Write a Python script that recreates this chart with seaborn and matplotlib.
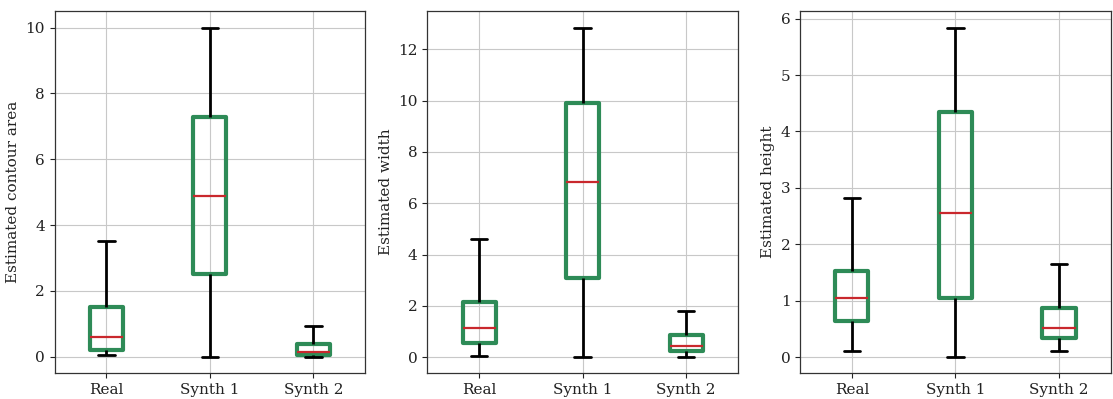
import numpy as np
import pandas as pd
import matplotlib
matplotlib.use("Agg")
import matplotlib.pyplot as plt
import seaborn as sns

groups = ["Real", "Synth 1", "Synth 2"]

# five-number summaries: [min, q1, median, q3, max]
area_real = [0.05, 0.19, 0.60, 1.52, 3.50]
area_synth1 = [0.00, 2.50, 4.88, 7.28, 10.00]
area_synth2 = [0.00, 0.06, 0.14, 0.38, 0.92]

width_real = [0.05, 0.55, 1.12, 2.15, 4.60]
width_synth1 = [0.02, 3.08, 6.82, 9.92, 12.85]
width_synth2 = [0.02, 0.25, 0.45, 0.88, 1.80]

height_real = [0.11, 0.64, 1.05, 1.52, 2.82]
height_synth1 = [0.01, 1.05, 2.55, 4.35, 5.84]
height_synth2 = [0.11, 0.34, 0.52, 0.87, 1.66]

ylabels = ["Estimated contour area", "Estimated width", "Estimated height"]

sns.set_style("ticks")
plt.rcParams["font.family"] = ["DejaVu Serif"]
plt.rcParams["axes.grid"] = True

panels = [
    (area_real, area_synth1, area_synth2),
    (width_real, width_synth1, width_synth2),
    (height_real, height_synth1, height_synth2),
]

fig, axes = plt.subplots(1, 3, figsize=(11.13, 3.99), dpi=100)
for ax, vals, lab in zip(axes, panels, ylabels):
    rows = []
    for g, v in zip(groups, vals):
        for x in v:
            rows.append({"group": g, "value": x})
    df = pd.DataFrame(rows)
    sns.boxplot(
        data=df, x="group", y="value", ax=ax, order=groups,
        whis=(0, 100), width=0.32, showfliers=False,
        boxprops=dict(facecolor="none", edgecolor="#2e8b57", linewidth=3,
                      joinstyle="round"),
        whiskerprops=dict(color="black", linewidth=2),
        capprops=dict(color="black", linewidth=2),
        medianprops=dict(color="#c9282d", linewidth=1.6),
    )
    ax.set_xlabel("")
    ax.set_ylabel(lab, fontsize=11, color="#222222")
    ax.tick_params(labelsize=11, colors="#222222", length=3.5)
    ax.grid(True, color="#c8c8c8", linewidth=0.8)
    ax.set_axisbelow(True)
    ax.set_xlim(-0.5, 2.5)
    for s in ax.spines.values():
        s.set_visible(True)
        s.set_color("#333333")
        s.set_linewidth(0.9)

fig.subplots_adjust(left=0.049, right=0.998, bottom=0.065, top=0.972, wspace=0.2)
fig.savefig("out.png", dpi=100)
